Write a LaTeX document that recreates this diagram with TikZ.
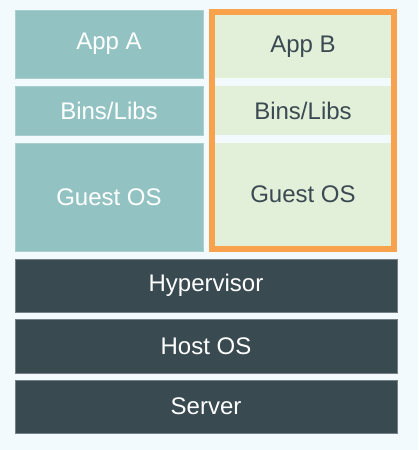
\documentclass[tikz,border=0pt]{standalone}
\usepackage{fontspec}
\setmainfont{Liberation Sans}
\definecolor{bgblue}{HTML}{F3FAFD}
\definecolor{vmteal}{HTML}{92C3C2}
\definecolor{vmgreen}{HTML}{E2EFD9}
\definecolor{vmorange}{HTML}{F9A24D}
\definecolor{hostdark}{HTML}{394A51}
\definecolor{textdark}{HTML}{3B4A52}
\tikzset{
	layer/.style={inner sep=0pt,outer sep=0pt,font=\fontsize{18}{21}\selectfont},
	tealbox/.style={layer,fill=vmteal,draw=vmteal!80!white,line width=0.5pt,text=white,minimum width=141pt},
	greenbox/.style={layer,fill=vmgreen,text=textdark,minimum width=132pt},
	darkbox/.style={layer,fill=hostdark,draw=hostdark!70!white,line width=0.5pt,text=white,minimum width=286.5pt}
}
\begin{document}
\begin{tikzpicture}[x=0.75pt,y=-0.75pt]
		\fill[color=bgblue] (0,0) rectangle (418,450);
		% left machine
		\node[tealbox,minimum height=51pt] (appa) at (109,44) {App A};
		\node[tealbox,minimum height=36.75pt] (binsa) at (109,110.5) {Bins/Libs};
		\node[tealbox,minimum height=81pt] (guesta) at (109,197) {Guest OS};
		% right machine, highlighted
		\draw[color=vmorange,line width=4.5pt] (212,12) rectangle (394,249);
		\node[greenbox,minimum height=47.25pt] (appb) at (303,46.5) {App B};
		\node[greenbox,minimum height=36.75pt] (binsb) at (303,110.5) {Bins/Libs};
		\node[greenbox,minimum height=77.25pt] (guestb) at (303,194.5) {Guest OS};
		% shared layers
		\node[darkbox,minimum height=39.75pt] (hyper) at (206,285.5) {Hypervisor};
		\node[darkbox,minimum height=40.5pt] (hostos) at (206,346) {Host OS};
		\node[darkbox,minimum height=39.75pt] (server) at (206,406.5) {Server};
	\end{tikzpicture}
\end{document}
